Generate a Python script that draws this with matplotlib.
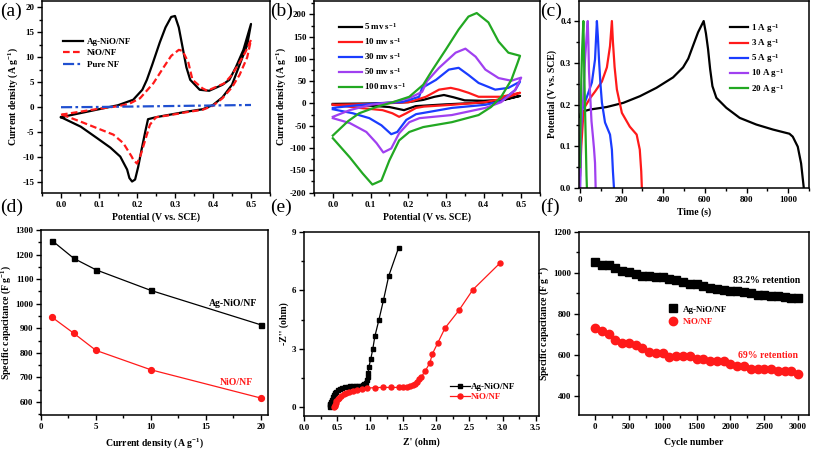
import matplotlib
matplotlib.use("Agg")
import matplotlib.pyplot as plt
from matplotlib.ticker import MultipleLocator

plt.rcParams['font.family'] = ['Liberation Serif', 'DejaVu Serif']
plt.rcParams['font.weight'] = 'bold'
plt.rcParams['axes.labelweight'] = 'bold'
plt.rcParams['axes.unicode_minus'] = False
plt.rcParams['mathtext.fontset'] = 'custom'
plt.rcParams['mathtext.rm'] = 'Liberation Serif:bold'
plt.rcParams['mathtext.bf'] = 'Liberation Serif:bold'
plt.rcParams['mathtext.it'] = 'Liberation Serif:bold:italic'

W, H = 813, 450
BLUE = '#1a3cff'
GREEN = '#22a822'
PURPLE = '#a040f0'
RED = '#ff1a1a'

# (a) CV at one scan rate, forward + reverse branch
a_ag_x = [0.0, 0.05, 0.10, 0.15, 0.19, 0.214, 0.226, 0.24, 0.26, 0.275, 0.29, 0.30, 0.31, 0.32, 0.33, 0.34, 0.365, 0.39, 0.425, 0.443, 0.46, 0.48, 0.50,
          0.49, 0.47, 0.45, 0.425, 0.40, 0.373, 0.33, 0.286, 0.25, 0.229, 0.222, 0.212, 0.203, 0.195, 0.187, 0.18, 0.174, 0.156, 0.13, 0.095, 0.052, 0.0]
a_ag_y = [-2.0, -1.2, -0.4, 0.4, 1.5, 3.5, 5.5, 8.5, 13.0, 16.0, 18.1, 18.3, 16.0, 12.0, 8.0, 5.5, 3.5, 3.3, 4.5, 5.5, 8.0, 11.5, 16.7,
          12.5, 8.5, 4.5, 2.0, 0.45, -0.4, -0.9, -1.5, -2.0, -2.4, -4.8, -8.5, -12.0, -14.5, -14.9, -14.2, -12.5, -9.9, -8.1, -6.2, -3.9, -2.0]
a_ni_x = [0.0, 0.05, 0.10, 0.15, 0.18, 0.208, 0.243, 0.27, 0.29, 0.31, 0.32, 0.335, 0.346, 0.372, 0.385, 0.40, 0.43, 0.45, 0.47, 0.485, 0.50,
          0.49, 0.47, 0.45, 0.425, 0.40, 0.373, 0.33, 0.286, 0.25, 0.234, 0.222, 0.21, 0.20, 0.19, 0.186, 0.164, 0.138, 0.095, 0.052, 0.0]
a_ni_y = [-1.5, -0.9, -0.3, 0.2, 0.7, 1.8, 4.8, 8.0, 10.3, 11.5, 11.3, 9.0, 5.5, 3.8, 3.3, 3.8, 4.8, 6.5, 9.0, 11.0, 13.5,
          10.0, 6.5, 4.0, 1.8, 0.3, -0.5, -1.0, -1.6, -2.0, -3.5, -6.5, -9.5, -11.3, -10.5, -9.9, -7.2, -5.5, -4.2, -2.9, -1.4]
a_nf_x = [0.0, 0.1, 0.2, 0.3, 0.4, 0.5]
a_nf_y = [0.0, 0.05, 0.15, 0.25, 0.35, 0.45]

# (b) CV at different scan rates
b_rates = ['5', '10', '30', '50', '100']
b_x = {
    '5': [0.0, 0.1, 0.2, 0.24, 0.27, 0.295, 0.32, 0.35, 0.4, 0.45, 0.497,
          0.45, 0.4, 0.3, 0.22, 0.189, 0.15, 0.1, 0.0],
    '10': [0.0, 0.115, 0.203, 0.247, 0.282, 0.313, 0.334, 0.36, 0.387, 0.447, 0.497,
           0.458, 0.405, 0.316, 0.242, 0.221, 0.195, 0.176, 0.158, 0.132, 0.071, 0.0],
    '30': [0.0, 0.053, 0.115, 0.184, 0.229, 0.237, 0.274, 0.308, 0.334, 0.36, 0.387, 0.431, 0.466, 0.497,
           0.484, 0.447, 0.405, 0.316, 0.242, 0.221, 0.195, 0.171, 0.155, 0.129, 0.097, 0.053, 0.0],
    '50': [0.0, 0.045, 0.1, 0.16, 0.203, 0.237, 0.25, 0.282, 0.326, 0.352, 0.379, 0.405, 0.44, 0.474, 0.5,
           0.484, 0.447, 0.405, 0.316, 0.23, 0.203, 0.176, 0.155, 0.134, 0.116, 0.089, 0.045, 0.0],
    '100': [0.0, 0.04, 0.07, 0.115, 0.16, 0.203, 0.24, 0.265, 0.3, 0.334, 0.36, 0.382, 0.413, 0.44, 0.466, 0.497,
            0.49, 0.474, 0.447, 0.42, 0.387, 0.316, 0.24, 0.203, 0.176, 0.15, 0.129, 0.105, 0.079, 0.045, 0.0],
}
b_y = {
    '5': [-1, 0, 3, 8, 15, 19, 14, 7, 6, 8, 17,
          7, 2, -2, -6, -15, -8, -5, -2],
    '10': [-3, -1, 3, 15, 31, 35, 31, 24, 15, 15, 24,
           12, 3, -3, -7, -10, -22, -30, -22, -15, -10, -3],
    '30': [-10, -5, 0, 3, 15, 35, 53, 76, 80, 64, 46, 31, 35, 49,
           30, 5, -3, -10, -21, -24, -37, -64, -69, -49, -33, -22, -13],
    '50': [-30, -15, -3, 3, 12, 26, 50, 80, 114, 123, 105, 76, 57, 51, 58,
           30, 3, -10, -26, -33, -42, -67, -101, -110, -89, -64, -44, -33],
    '100': [-72, -40, -22, -8, 3, 15, 42, 76, 121, 166, 195, 203, 182, 139, 114, 107,
            90, 53, 15, -8, -26, -42, -53, -64, -83, -128, -173, -182, -157, -121, -78],
}
b_colors = ['black', RED, BLUE, PURPLE, GREEN]

# (c) charge-discharge curves
c_labels = ['1', '3', '5', '10', '20']
c_t = {
    '1': [0, 3, 10, 48, 128, 208, 288, 367, 447, 495, 520, 543, 567, 594, 605, 615, 625, 636, 655, 703, 767, 847, 927, 1006, 1022, 1046, 1062, 1075],
    '3': [0, 2, 6, 15, 24, 48, 72, 105, 129, 144, 153, 158, 166, 177, 201, 239, 272, 287, 294, 297],
    '5': [0, 2, 5, 10, 20, 34, 57, 72, 81, 86, 91, 98, 105, 120, 144, 153, 158, 163],
    '10': [0, 3, 8, 15, 24, 31, 37, 40, 43, 48, 55, 62, 67, 72, 75],
    '20': [0, 3, 6, 10, 16, 18, 21, 24, 28, 31, 33],
}
c_v = {
    '1': [0.17, 0.178, 0.183, 0.188, 0.194, 0.204, 0.22, 0.24, 0.265, 0.289, 0.31, 0.341, 0.373, 0.4, 0.37, 0.333, 0.285, 0.244, 0.216, 0.192, 0.168, 0.152, 0.14, 0.13, 0.123, 0.099, 0.059, 0.0],
    '3': [0.03, 0.05, 0.1, 0.17, 0.195, 0.215, 0.231, 0.255, 0.289, 0.34, 0.4, 0.35, 0.29, 0.236, 0.18, 0.147, 0.128, 0.092, 0.04, 0.0],
    '5': [0.0, 0.06, 0.15, 0.188, 0.2, 0.22, 0.253, 0.308, 0.4, 0.36, 0.308, 0.25, 0.205, 0.157, 0.128, 0.092, 0.04, 0.0],
    '10': [0.0, 0.12, 0.18, 0.21, 0.308, 0.36, 0.4, 0.35, 0.28, 0.229, 0.16, 0.123, 0.095, 0.06, 0.0],
    '20': [0.05, 0.18, 0.26, 0.33, 0.4, 0.35, 0.26, 0.19, 0.1, 0.03, 0.0],
}

# (d) rate capability
d_current = [1, 3, 5, 10, 20]
d_ag = [1257, 1184, 1138, 1054, 914]
d_ni = [945, 879, 810, 731, 616]

# (e) Nyquist plots
e_ag_re = [0.39, 0.395, 0.40, 0.41, 0.42, 0.435, 0.45, 0.47, 0.49, 0.52, 0.55, 0.58, 0.62, 0.66, 0.70, 0.74, 0.78, 0.82, 0.86, 0.89, 0.91,
           0.93, 0.95, 0.96, 0.97, 0.98, 1.01, 1.04, 1.07, 1.13, 1.20, 1.28, 1.43]
e_ag_im = [0.0, 0.08, 0.17, 0.28, 0.38, 0.5, 0.6, 0.7, 0.78, 0.86, 0.92, 0.97, 1.01, 1.04, 1.06, 1.07, 1.08, 1.09, 1.1, 1.12, 1.16,
           1.25, 1.4, 1.55, 1.75, 2.06, 2.49, 3.0, 3.63, 4.46, 5.49, 6.74, 8.2]
e_ni_re = [0.46, 0.465, 0.47, 0.48, 0.49, 0.51, 0.53, 0.56, 0.6, 0.64, 0.68, 0.74, 0.8, 0.87, 0.95, 1.07, 1.2, 1.32, 1.43, 1.5, 1.55,
           1.6, 1.64, 1.68, 1.71, 1.74, 1.77, 1.83, 1.9, 1.94, 2.02, 2.13, 2.34, 2.55, 2.96]
e_ni_im = [0.0, 0.06, 0.13, 0.22, 0.3, 0.4, 0.48, 0.57, 0.66, 0.73, 0.79, 0.85, 0.9, 0.94, 0.97, 1.0, 1.01, 1.01, 1.01, 1.02, 1.04,
           1.07, 1.12, 1.2, 1.3, 1.42, 1.54, 1.85, 2.26, 2.74, 3.29, 4.06, 4.97, 6.03, 7.4]

# (f) cycling stability
f_cycle = list(range(0, 3001, 100))
f_ag = [1055, 1038, 1037, 1025, 1012, 1003, 997, 985, 983, 980, 978, 973, 965, 957, 948, 945, 937, 928, 922, 915, 913,
        910, 908, 900, 893, 892, 890, 888, 885, 880, 878]
f_ni = [733, 715, 700, 675, 660, 660, 648, 633, 615, 608, 610, 592, 593, 593, 593, 580, 580, 570, 570, 570, 558,
        545, 545, 533, 533, 533, 533, 522, 522, 522, 506]


def rect(l, r, t, b):
    return [l / W, 1 - b / H, (r - l) / W, (b - t) / H]


def style(ax, major_x, minor_x, major_y, minor_y):
    ax.xaxis.set_major_locator(MultipleLocator(major_x))
    ax.xaxis.set_minor_locator(MultipleLocator(minor_x))
    ax.yaxis.set_major_locator(MultipleLocator(major_y))
    ax.yaxis.set_minor_locator(MultipleLocator(minor_y))
    ax.tick_params(which='both', direction='out', top=False, right=False, labelsize=6.5, width=1, pad=2)
    ax.tick_params(which='major', length=3.5)
    ax.tick_params(which='minor', length=2)
    for s in ax.spines.values():
        s.set_linewidth(1.1)
    for lab in ax.get_xticklabels() + ax.get_yticklabels():
        lab.set_fontweight('bold')


fig = plt.figure(figsize=(W / 100, H / 100), dpi=100)

# (a)
ax = fig.add_axes(rect(42, 270, 1, 193))
ax.plot(a_ag_x, a_ag_y, color='black', lw=1.6, label='Ag-NiO/NF')
ax.plot(a_ni_x, a_ni_y, color=RED, lw=1.6, ls=(0, (3, 1.5)), label='NiO/NF')
ax.plot(a_nf_x, a_nf_y, color='#2050d0', lw=1.6, ls=(0, (5, 1.5, 1.2, 1.5)), label='Pure NF')
ax.set_xlim(-0.05, 0.55)
ax.set_ylim(-17.2, 21.3)
style(ax, 0.1, 0.05, 5, 2.5)
ax.xaxis.set_major_formatter(matplotlib.ticker.FormatStrFormatter('%.1f'))
ax.set_xlabel('Potential (V vs. SCE)', fontsize=7, labelpad=3)
ax.set_ylabel('Current density (A g$^{-1}$)', fontsize=7, labelpad=2)
ax.legend(loc='upper left', bbox_to_anchor=(0.09, 0.81), frameon=False, fontsize=6.5,
          handlelength=2.3, handletextpad=0.4, labelspacing=0.35, borderpad=0, borderaxespad=0)

# (b)
ax = fig.add_axes(rect(314, 540, 1, 193))
for r, c in zip(b_rates, b_colors):
    ax.plot(b_x[r], b_y[r], color=c, lw=1.6, label=r + ' mv s$^{-1}$')
ax.set_xlim(-0.05, 0.55)
ax.set_ylim(-201, 230)
style(ax, 0.1, 0.05, 50, 25)
ax.xaxis.set_major_formatter(matplotlib.ticker.FormatStrFormatter('%.1f'))
ax.set_xlabel('Potential (V vs. SCE)', fontsize=7, labelpad=3)
ax.set_ylabel('Current density (A g$^{-1}$)', fontsize=7, labelpad=1)
ax.legend(loc='upper left', bbox_to_anchor=(0.11, 0.895), frameon=False, fontsize=6.5,
          handlelength=2.6, handletextpad=0.15, labelspacing=0.45, borderpad=0, borderaxespad=0)

# (c)
ax = fig.add_axes(rect(579, 809, 1, 188))
for lab, c in zip(c_labels, b_colors):
    ax.plot(c_t[lab], c_v[lab], color=c, lw=1.6, label=lab + ' A g$^{-1}$')
ax.set_xlim(-5, 1100)
ax.set_ylim(0, 0.448)
style(ax, 200, 100, 0.1, 0.05)
ax.yaxis.set_major_formatter(matplotlib.ticker.FormatStrFormatter('%.1f'))
ax.set_xlabel('Time (s)', fontsize=7, labelpad=3)
ax.set_ylabel('Potential (V vs. SCE)', fontsize=7, labelpad=2)
ax.legend(loc='upper left', bbox_to_anchor=(0.655, 0.89), frameon=False, fontsize=6.5,
          handlelength=2.0, handletextpad=0.4, labelspacing=0.25, borderpad=0, borderaxespad=0)

# (d)
ax = fig.add_axes(rect(41, 268, 230, 415))
ax.plot(d_current, d_ag, color='black', lw=0.9, marker='s', ms=3.6)
ax.plot(d_current, d_ni, color=RED, lw=0.9, marker='o', ms=4.2)
ax.set_xlim(0, 20.65)
ax.set_ylim(547, 1300)
style(ax, 5, 2.5, 100, 50)
ax.text(19.7, 1000, 'Ag-NiO/NF', ha='right', va='center', fontsize=7, fontweight='bold')
ax.text(19.3, 681, 'NiO/NF', ha='right', va='center', fontsize=7, fontweight='bold', color=RED)
ax.set_xlabel('Current density (A g$^{-1}$)', fontsize=7, labelpad=4)
ax.set_ylabel('Specific capacitance (F g$^{-1}$)', fontsize=7, labelpad=2)

# (e)
ax = fig.add_axes(rect(304, 539, 232, 416))
ax.plot(e_ag_re, e_ag_im, color='black', lw=0.9, marker='s', ms=3.0, label='Ag-NiO/NF')
ax.plot(e_ni_re, e_ni_im, color=RED, lw=0.9, marker='o', ms=3.6, label='NiO/NF')
ax.set_xlim(0, 3.55)
ax.set_ylim(-0.46, 9)
style(ax, 0.5, 0.25, 3, 1.5)
ax.xaxis.set_major_formatter(matplotlib.ticker.FormatStrFormatter('%.1f'))
ax.set_xlabel("Z' (ohm)", fontsize=7, labelpad=4)
ax.set_ylabel("-Z'' (ohm)", fontsize=7, labelpad=2)
leg = ax.legend(loc='upper left', bbox_to_anchor=(0.62, 0.18), frameon=False, fontsize=6.5,
                handlelength=2.2, handletextpad=0.15, labelspacing=0.2, borderpad=0, borderaxespad=0)
leg.get_texts()[1].set_color(RED)

# (f)
ax = fig.add_axes(rect(579, 809, 232, 415))
ax.plot(f_cycle, f_ag, ls='none', color='black', marker='s', ms=5.2, label='Ag-NiO/NF')
ax.plot(f_cycle, f_ni, ls='none', color=RED, marker='o', ms=6.0, label='NiO/NF')
ax.set_xlim(-236, 3160)
ax.set_ylim(307, 1200)
style(ax, 500, 250, 200, 100)
ax.text(3034, 963, '83.2% retention', ha='right', va='center', fontsize=7, fontweight='bold')
ax.text(2995, 596, '69% retention', ha='right', va='center', fontsize=7, fontweight='bold', color=RED)
ax.set_xlabel('Cycle number', fontsize=7, labelpad=5)
ax.set_ylabel('Specific capacitance (F g$^{-1}$)', fontsize=7, labelpad=2)
leg = ax.legend(loc='upper left', bbox_to_anchor=(0.385, 0.6), frameon=False, fontsize=6.5,
                handlelength=1.2, handletextpad=0.5, labelspacing=0.45, borderpad=0, borderaxespad=0)
leg.get_texts()[1].set_color(RED)

# panel letters
for txt, x, y in [('(a)', 0, 11), ('(b)', 270, 11), ('(c)', 540, 11),
                  ('(d)', 0, 207), ('(e)', 270, 207), ('(f)', 540, 207)]:
    fig.text(x / W, 1 - y / H, txt, fontsize=14, fontweight='normal', va='center', ha='left')

fig.savefig('out.png', dpi=100)
